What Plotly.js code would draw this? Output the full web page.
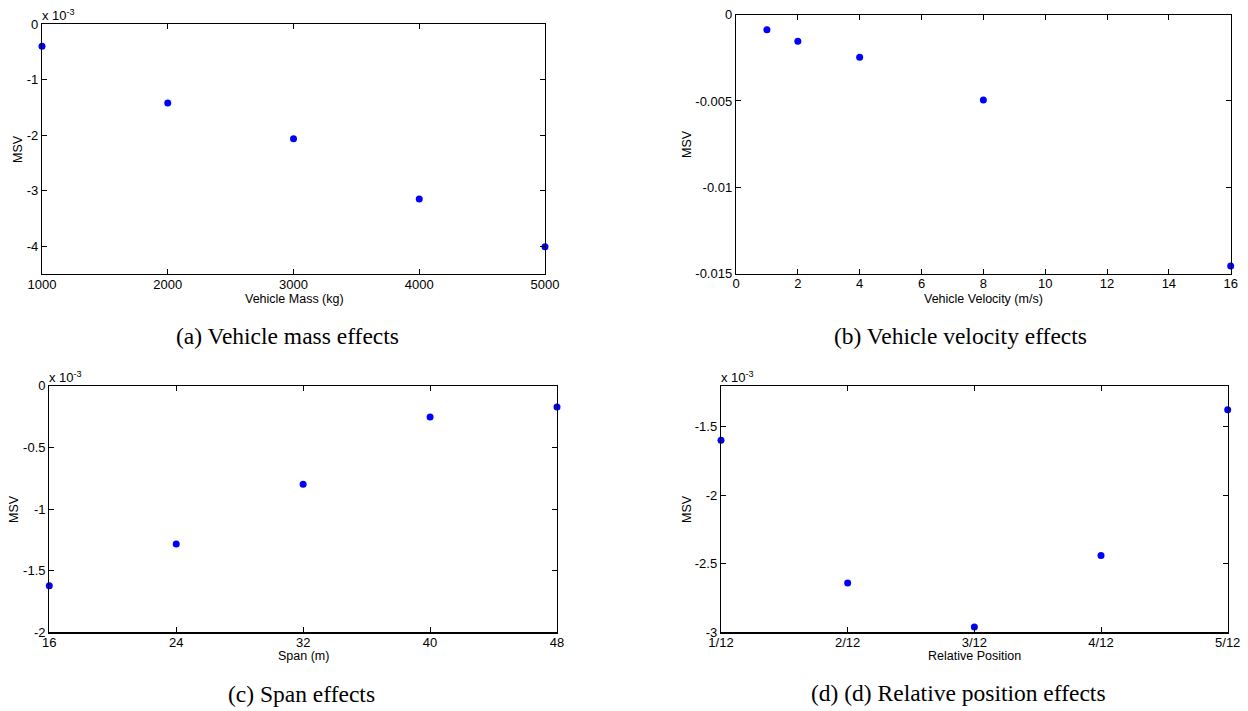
<!DOCTYPE html>
<html>
<head>
<meta charset="utf-8">
<script src="https://cdn.plot.ly/plotly-3.0.1.min.js"></script>
<style>html,body{margin:0;padding:0;background:#fff;}#chart{width:1248px;height:711px;}</style>
</head>
<body>
<div id="chart"></div>
<script>
// ---- Data ----
const massKg = [1000, 2000, 3000, 4000, 5000];
const massMSV = [-0.40e-3, -1.42e-3, -2.065e-3, -3.15e-3, -4.01e-3];
const massXTicks = [1000, 2000, 3000, 4000, 5000];
const massYTicks = [0, -1, -2, -3, -4];          // x 10^-3

const velocity = [1, 2, 4, 8, 16];
const velocityMSV = [-0.00087, -0.00154, -0.00247, -0.00494, -0.01457];
const velXTicks = [0, 2, 4, 6, 8, 10, 12, 14, 16];
const velYTicks = [0, -0.005, -0.01, -0.015];
const velYLabels = ['0', '-0.005', '-0.01', '-0.015'];

const span = [16, 24, 32, 40, 48];
const spanMSV = [-1.622e-3, -1.284e-3, -0.80e-3, -0.254e-3, -0.173e-3];
const spanXTicks = [16, 24, 32, 40, 48];
const spanYTicks = [0, -0.5, -1, -1.5, -2];     // x 10^-3

const relPos = [1/12, 2/12, 3/12, 4/12, 5/12];
const relPosLabels = ['1/12', '2/12', '3/12', '4/12', '5/12'];
const relPosMSV = [-1.598e-3, -2.641e-3, -2.961e-3, -2.439e-3, -1.376e-3];
const relYTicks = [-1.5, -2, -2.5, -3];         // x 10^-3

const captions = ['(a) Vehicle mass effects', '(b) Vehicle velocity effects', '(c) Span effects', '(d) (d) Relative position effects'];
const xTitles = ['Vehicle Mass (kg)', 'Vehicle Velocity (m/s)', 'Span (m)', 'Relative Position'];

// ---- Layout helpers ----
const W = 1248, H = 711;
const px = x => x / W;
const py = y => 1 - y / H;
const sans = 'Liberation Sans, Arial, sans-serif';
const serif = 'Liberation Serif, Times New Roman, serif';
const lbl = v => String(v);

function axis(domain, range, tickvals, ticktext, isX) {
  const a = {
    domain: domain, range: range, tickmode: 'array', tickvals: tickvals, ticktext: ticktext,
    showline: true, linecolor: 'black', linewidth: 1.2, mirror: 'ticks',
    ticks: 'inside', ticklen: 5, tickwidth: 1, tickcolor: 'black',
    showgrid: false, zeroline: false, fixedrange: true,
    tickfont: {family: sans, size: 13, color: 'black'}
  };
  if (isX) a.ticklabelstandoff = -2;
  return a;
}

const boxes = [
  {x0: 42, x1: 545, y0: 24, y1: 274},
  {x0: 736, x1: 1230.7, y0: 14.7, y1: 273.5},
  {x0: 49.3, x1: 557, y0: 385.7, y1: 632.3},
  {x0: 721, x1: 1227.7, y0: 385.7, y1: 632.3}
];
const dom = b => ({x: [px(b.x0), px(b.x1)], y: [py(b.y1), py(b.y0)]});

const marker = {color: '#0000ff', size: 7, symbol: 'circle'};
const traces = [
  {x: massKg, y: massMSV, xaxis: 'x', yaxis: 'y'},
  {x: velocity, y: velocityMSV, xaxis: 'x2', yaxis: 'y2'},
  {x: span, y: spanMSV, xaxis: 'x3', yaxis: 'y3'},
  {x: relPos, y: relPosMSV, xaxis: 'x4', yaxis: 'y4'}
].map(t => Object.assign(t, {type: 'scatter', mode: 'markers', marker: marker, cliponaxis: false, showlegend: false, hoverinfo: 'x+y'}));

const d = boxes.map(dom);
const layout = {
  width: W, height: H, margin: {l: 0, r: 0, t: 0, b: 0},
  paper_bgcolor: 'white', plot_bgcolor: 'white', showlegend: false,
  xaxis: axis(d[0].x, [1000, 5000], massXTicks, massXTicks.map(String), true),
  yaxis: axis(d[0].y, [-4.5e-3, 0], massYTicks.map(v => v * 1e-3), massYTicks.map(lbl)),
  xaxis2: axis(d[1].x, [0, 16], velXTicks, velXTicks.map(String), true),
  yaxis2: axis(d[1].y, [-0.015, 0], velYTicks, velYLabels),
  xaxis3: axis(d[2].x, [16, 48], spanXTicks, spanXTicks.map(String), true),
  yaxis3: axis(d[2].y, [-2e-3, 0], spanYTicks.map(v => v * 1e-3), spanYTicks.map(lbl)),
  xaxis4: axis(d[3].x, [1/12, 5/12], relPos, relPosLabels, true),
  yaxis4: axis(d[3].y, [-3e-3, -1.2e-3], relYTicks.map(v => v * 1e-3), relYTicks.map(lbl)),
  annotations: []
};
['xaxis','yaxis','xaxis2','yaxis2','xaxis3','yaxis3','xaxis4','yaxis4'].forEach((k, i) => {
  layout[k].anchor = (k[0] === 'x' ? 'y' : 'x') + (i >= 2 ? String(Math.floor(i / 2) + 1) : '');
});

const ann = (text, x, y, opts) => Object.assign({
  text: text, x: px(x), y: py(y), xref: 'paper', yref: 'paper', showarrow: false,
  xanchor: 'center', yanchor: 'middle', borderpad: 0,
  font: {family: sans, size: 13, color: 'black'}
}, opts || {});

const capPos = [[287, 336], [960, 336], [301, 694], [958, 693]];
const xtPos = [[294, 298.5], [983, 298.5], [303, 656], [974, 656]];
const msvPos = [[18, 149], [687, 144], [14, 509], [687, 509]];
for (let i = 0; i < 4; i++) {
  layout.annotations.push(ann(captions[i], capPos[i][0], capPos[i][1], {font: {family: serif, size: 23.5, color: 'black'}}));
  layout.annotations.push(ann(xTitles[i], xtPos[i][0], xtPos[i][1], {font: {family: sans, size: 12.5, color: 'black'}}));
  layout.annotations.push(ann('MSV', msvPos[i][0], msvPos[i][1], {textangle: -90, font: {family: sans, size: 12.5, color: 'black'}}));
}
const expPos = [[41, 24], [48, 385.7], [720, 385.7]];
expPos.forEach(p => layout.annotations.push(ann('x 10<sup>-3</sup>', p[0], p[1], {xanchor: 'left', yanchor: 'bottom'})));

Plotly.newPlot('chart', traces, layout, {displayModeBar: false, staticPlot: true});
</script>
</body>
</html>
